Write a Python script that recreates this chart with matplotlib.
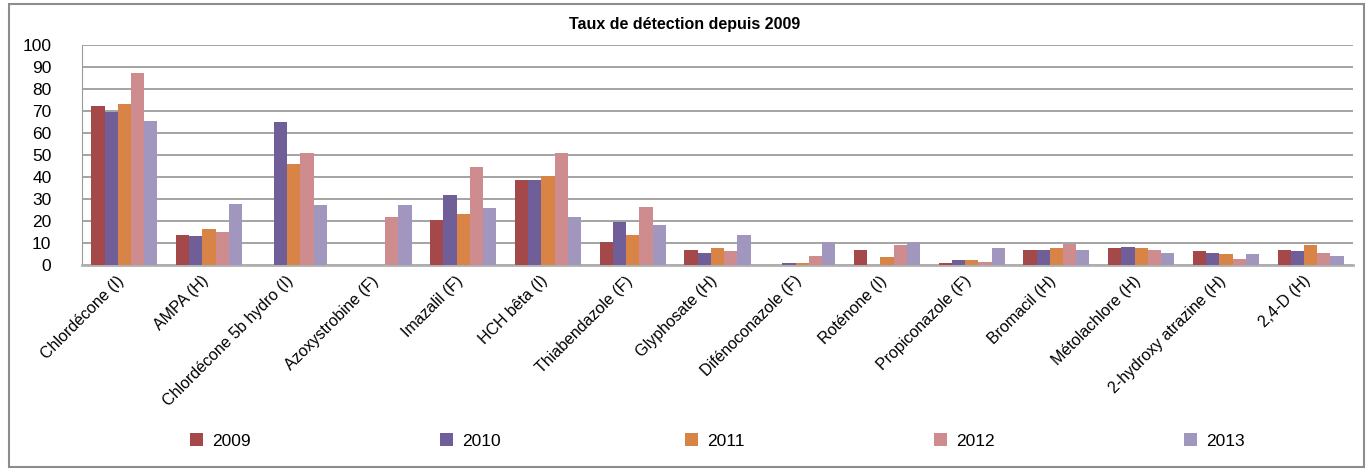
import matplotlib
matplotlib.use("Agg")
import matplotlib.pyplot as plt
import numpy as np
from matplotlib.patches import Rectangle
from matplotlib.transforms import ScaledTranslation

categories = ["Chlordécone (I)", "AMPA (H)", "Chlordécone 5b hydro (I)", "Azoxystrobine (F)",
              "Imazalil (F)", "HCH bêta (I)", "Thiabendazole (F)", "Glyphosate (H)",
              "Difénoconazole (F)", "Roténone (I)", "Propiconazole (F)", "Bromacil (H)",
              "Métolachlore (H)", "2-hydroxy atrazine (H)", "2,4-D (H)"]
years = ["2009", "2010", "2011", "2012", "2013"]
v2009 = [72.3, 13.6, 0, 0, 20.5, 38.6, 10.3, 6.8, 0, 6.8, 0.9, 6.8, 7.7, 6.4, 6.8]
v2010 = [69.5, 13.2, 65.0, 0, 32.0, 38.6, 19.5, 5.4, 0.9, 0, 2.3, 6.8, 8.2, 5.4, 6.4]
v2011 = [73.2, 16.4, 46.0, 0, 23.2, 40.5, 13.6, 7.7, 0.9, 3.6, 2.3, 7.7, 7.7, 5.0, 9.1]
v2012 = [87.3, 15.0, 51.0, 21.8, 44.5, 51.0, 26.4, 6.4, 4.1, 9.1, 1.4, 9.5, 6.8, 2.7, 5.4]
v2013 = [65.5, 27.7, 27.3, 27.3, 26.0, 21.8, 18.2, 13.6, 10.3, 10.3, 7.7, 6.8, 5.4, 5.0, 4.1]
series = [v2009, v2010, v2011, v2012, v2013]
colors = ["#A5484A", "#6F5E98", "#D98447", "#CF8C8F", "#A096BE"]

plt.rcParams['font.family'] = ['Liberation Sans Narrow', 'Liberation Sans', 'DejaVu Sans']

W, H = 1369, 471
fig = plt.figure(figsize=(W / 100, H / 100), dpi=100)
fig.patches.append(Rectangle((9 / W, 4 / H), (1364 - 9) / W, (467 - 4) / H,
                             transform=fig.transFigure, fill=False,
                             edgecolor="#8c8c8c", linewidth=1.5))

left, right, top, bottom = 82, 1353, 45, 265
ax = fig.add_axes([left / W, 1 - bottom / H, (right - left) / W, (bottom - top) / H])

x = np.arange(len(categories))
n = len(series)
bw = 0.78 / n
handles = []
for i, (vals, c, yr) in enumerate(zip(series, colors, years)):
    b = ax.bar(x + (i - (n - 1) / 2) * bw, vals, width=bw, color=c, label=yr, zorder=3)
    handles.append(b)

ax.set_ylim(0, 100)
ax.set_xlim(-0.5, len(categories) - 0.5)
ax.set_yticks(np.arange(0, 101, 10))
ax.tick_params(axis='y', length=0, labelsize=12.5, pad=22)
ax.tick_params(axis='x', length=0, labelsize=11.5, pad=6)
ax.set_xticks(x)
ax.set_xticklabels(categories, rotation=45, ha='right', rotation_mode='anchor')
off = ScaledTranslation(-8 / 100, 0, fig.dpi_scale_trans)
for lab in ax.get_xticklabels():
    lab.set_transform(lab.get_transform() + off)
ax.yaxis.grid(True, color="#8a8a8a", linewidth=1.1, zorder=0)
ax.set_axisbelow(True)
for s in ["top", "right"]:
    ax.spines[s].set_visible(False)
ax.spines["left"].set_color("#9a9a9a")
ax.spines["bottom"].set_color("#b0b0b0")
ax.spines["bottom"].set_linewidth(2)

fig.text(0.5, 1 - 25 / H, "Taux de détection depuis 2009", ha='center', va='center',
         fontsize=11.5, fontweight='bold')

leg_x = [190, 440, 685, 934, 1184]
for h, yr, lx in zip(handles, years, leg_x):
    lg = fig.legend([h], [yr], loc='center left', bbox_to_anchor=(lx / W, 1 - 441 / H),
                    frameon=False, fontsize=12.5, handlelength=0.75, handleheight=0.75,
                    handletextpad=0.5, borderpad=0, borderaxespad=0)

fig.savefig("out.png", dpi=100)
